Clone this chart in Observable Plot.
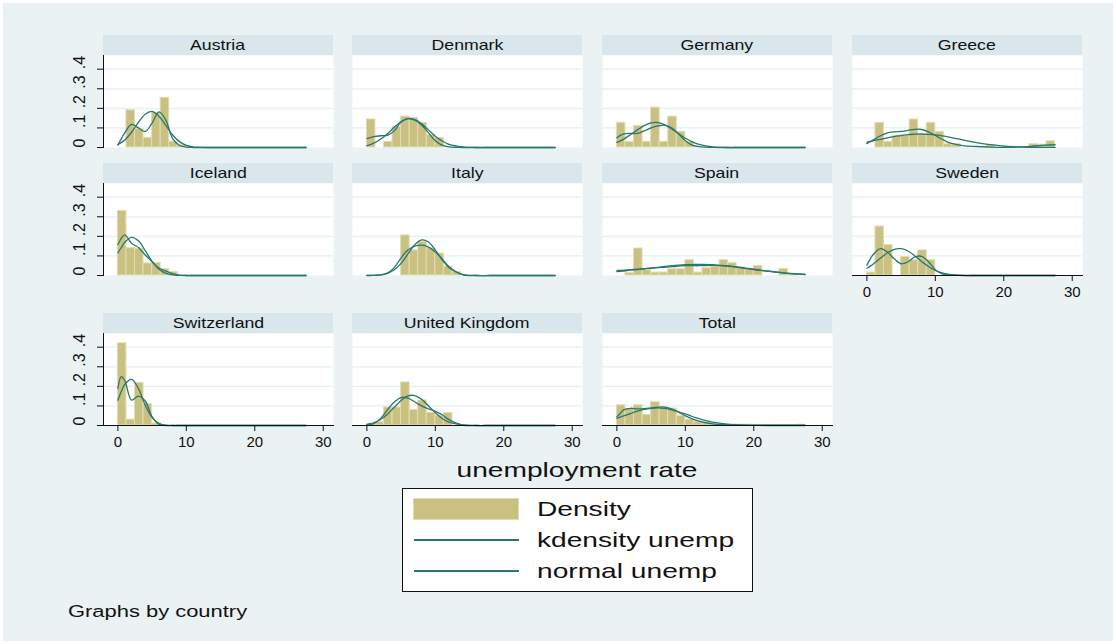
<!DOCTYPE html>
<html><head><meta charset="utf-8">
<script src="https://cdn.jsdelivr.net/npm/d3@7"></script>
<script src="https://cdn.jsdelivr.net/npm/@observablehq/plot@0.6"></script>
<style>
body{margin:0;background:#fff;}
#chart{position:relative;width:1110px;height:638px;margin:3px;background:#eaf2f3;font-family:"Liberation Sans",Arial,sans-serif;overflow:hidden}
#root{position:relative;width:1116px;height:644px;background:#fff;overflow:hidden}
.strip{position:absolute;background:#d9e6eb;text-align:center;font-size:14.5px;color:#111;line-height:20px;height:20px;width:230px}
.strip span{display:inline-block;transform:scaleX(1.22);transform-origin:center}
.panel{position:absolute}
.txt{position:absolute;color:#111;white-space:nowrap}
</style></head><body><div id="root"><div id="chart"></div></div><script>
const countries = ["Austria","Denmark","Germany","Greece","Iceland","Italy","Spain","Sweden","Switzerland","United Kingdom","Total"];
const binEdges = [0,1.25,2.5,3.75,5,6.25,7.5,8.75,10,11.25,12.5,13.75,15,16.25,17.5,18.75,20,21.25,22.5,23.75,25,26.25,27.5];
const austriaHist = [0,.19,.094,.05,.177,.254,.03,.012,0,0,0,0,0,0,0,0,0,0,0,0,0,0];
const denmarkHist = [.143,0,.029,.105,.158,.15,.126,.063,.048,0,0,0,0,0,0,0,0,0,0,0,0,0];
const germanyHist = [.126,.029,.109,.029,.204,.029,.158,.08,.029,0,0,0,0,0,0,0,0,0,0,0,0,0];
const greeceHist = [0,.126,.029,.06,.06,.143,.063,.126,.08,.017,.017,0,0,0,.012,0,.005,0,0,.017,.014,.032];
const icelandHist = [.33,.14,.135,.062,.065,.033,.017,0,0,0,0,0,0,0,0,0,0,0,0,0,0,0];
const italyHist = [0,0,0,0,.205,.128,.172,.138,.112,.045,.017,0,0,0,0,0,0,0,0,0,0,0];
const spainHist = [0,.012,.138,.028,.015,.015,.032,.032,.078,.015,.037,.045,.078,.063,.042,.033,.048,0,0,.033,.008,0];
const swedenHist = [.015,.25,.155,0,.095,.078,.128,.078,0,0,0,0,0,0,0,0,0,0,0,0,0,0];
const switzerlandHist = [.42,.03,.218,.109,.01,0,0,0,0,0,0,0,0,0,0,0,0,0,0,0,0,0];
const ukHist = [.004,.017,.092,.092,.22,.08,.128,.064,.05,.064,0,0,0,0,0,0,0,0,0,0,0,0];
const totalHist = [.103,.084,.103,.054,.119,.092,.086,.05,.03,.02,.012,.008,.006,.005,.004,.004,.003,.002,.002,.002,.002,.004];

const curveX = [0,0.5,1,2,3,4,5,6,7,8,9,10,11,12,14,16,18,20,22,24,26,27.5];
const austriaKd = [.012,.045,.075,.118,.1,.082,.125,.182,.14,.045,.01,.002,0,0,0,0,0,0,0,0,0,0];
const austriaNm = [.015,.025,.038,.078,.128,.17,.184,.16,.113,.064,.03,.011,.003,.001,0,0,0,0,0,0,0,0];
const denmarkKd = [.045,.05,.055,.06,.062,.085,.13,.148,.14,.115,.075,.035,.012,.003,0,0,0,0,0,0,0,0];
const denmarkNm = [.01,.015,.022,.042,.07,.103,.132,.147,.143,.121,.09,.058,.033,.016,.003,0,0,0,0,0,0,0];
const germanyKd = [.05,.062,.07,.072,.072,.085,.1,.11,.114,.1,.07,.035,.012,.004,.001,0,0,0,0,0,0,0];
const germanyNm = [.026,.034,.043,.066,.09,.112,.126,.127,.116,.095,.071,.047,.029,.016,.003,0,0,0,0,0,0,0];
const greeceKd = [.02,.03,.04,.06,.075,.08,.082,.088,.093,.092,.08,.062,.042,.025,.01,.005,.002,.001,.002,.006,.012,.014];
const greeceNm = [.028,.031,.035,.042,.049,.056,.061,.066,.068,.069,.067,.064,.059,.053,.039,.025,.015,.0075,.0034,.0014,.0005,.0002];
const icelandKd = [.158,.19,.208,.165,.143,.105,.07,.038,.022,.01,.002,0,0,0,0,0,0,0,0,0,0,0];
const icelandNm = [.116,.143,.169,.195,.177,.127,.072,.032,.011,.003,.001,0,0,0,0,0,0,0,0,0,0,0];
const italyKd = [.001,.001,.001,.003,.012,.04,.09,.13,.15,.155,.145,.12,.085,.045,.004,0,0,0,0,0,0,0];
const italyNm = [0,0,.001,.003,.011,.029,.062,.11,.157,.182,.171,.13,.08,.04,.005,0,0,0,0,0,0,0];
const spainKd = [.025,.026,.027,.03,.032,.035,.037,.04,.042,.045,.048,.05,.05,.05,.052,.048,.04,.03,.022,.015,.008,.005];
const spainNm = [.02,.021,.023,.027,.03,.034,.038,.042,.046,.05,.053,.055,.056,.057,.056,.05,.042,.032,.023,.015,.009,.006];
const swedenKd = [.053,.085,.11,.137,.12,.085,.06,.07,.095,.098,.07,.03,.008,.002,0,0,0,0,0,0,0,0];
const swedenNm = [.037,.048,.061,.089,.116,.134,.137,.125,.1,.072,.046,.026,.013,.006,.0005,0,0,0,0,0,0,0];
const switzerlandKd = [.19,.25,.23,.13,.15,.125,.045,.006,0,0,0,0,0,0,0,0,0,0,0,0,0,0];
const switzerlandNm = [.129,.174,.21,.236,.189,.104,.04,.011,.002,0,0,0,0,0,0,0,0,0,0,0,0,0];
const ukKd = [.003,.005,.01,.035,.08,.12,.143,.14,.12,.1,.085,.072,.055,.03,.002,0,0,0,0,0,0,0];
const ukNm = [.006,.009,.014,.031,.058,.093,.128,.151,.153,.134,.1,.065,.036,.017,.0025,0,0,0,0,0,0,0];
const totalKd = [.044,.062,.08,.088,.085,.086,.09,.094,.094,.085,.068,.05,.034,.022,.008,.004,.003,.002,.002,.002,.002,.002];
const totalNm = [.037,.043,.049,.061,.073,.082,.088,.09,.087,.08,.07,.059,.046,.035,.017,.0067,.0021,.0006,0,0,0,0];

const xTicks = [0,10,20,30];
const yTicks = [0,.1,.2,.3,.4];
const yTickLabels = ["0",".1",".2",".3",".4"];
const legendLabels = ["Density","kdensity unemp","normal unemp"];

const hists = [austriaHist,denmarkHist,germanyHist,greeceHist,icelandHist,italyHist,spainHist,swedenHist,switzerlandHist,ukHist,totalHist];
const kds = [austriaKd,denmarkKd,germanyKd,greeceKd,icelandKd,italyKd,spainKd,swedenKd,switzerlandKd,ukKd,totalKd];
const nms = [austriaNm,denmarkNm,germanyNm,greeceNm,icelandNm,italyNm,spainNm,swedenNm,switzerlandNm,ukNm,totalNm];

const BAR = "#c9c082", BAR_EDGE = "#e2dcb2", LINE = "#2a776d";
const OFF = 3; // chart inset inside the white outer border
const colLeft = [103,352,602,852], rowTop = [35,163,313];
const PW = 230, PH = 92, STRIP = 20;
const chart = document.getElementById("chart");

countries.forEach((name, i) => {
  const col = i % 4, row = Math.floor(i / 4);
  const left = colLeft[col] - OFF, top = rowTop[row] - OFF;
  const isLeft = col === 0;
  const isBottom = row === 2 || i === 7;
  const strip = document.createElement("div");
  strip.className = "strip";
  strip.style.left = left + "px"; strip.style.top = top + "px";
  const sp = document.createElement("span");
  sp.textContent = name;
  strip.appendChild(sp);
  chart.appendChild(strip);

  const bars = hists[i].map((h, k) => ({x1: binEdges[k], x2: binEdges[k+1], h})).filter(d => d.h > 0);
  const lines = [];
  curveX.forEach((x, k) => { lines.push({x, y: kds[i][k], s: "kd"}); lines.push({x, y: nms[i][k], s: "nm"}); });
  const ml = isLeft ? 50 : 0, mb = isBottom ? 32 : 0;
  const marks = [
    Plot.frame({fill: "white", stroke: "none"}),
    Plot.ruleY([.1,.2,.3,.4], {stroke: "#e6eff1", strokeWidth: 1.2}),
    Plot.rectY(bars, {x1: "x1", x2: "x2", y: "h", fill: BAR, stroke: BAR_EDGE, strokeWidth: 1}),
    Plot.line(lines, {x: "x", y: "y", z: "s", stroke: LINE, strokeWidth: 1.3, curve: "catmull-rom"})
  ];
  if (isLeft) {
    marks.push(Plot.frame({anchor: "left", stroke: "#111", strokeWidth: 1}));
    marks.push(Plot.axisY(yTicks, {tickSize: 6, tickFormat: () => "", stroke: "#111"}));
    marks.push(Plot.text(yTicks, {y: d => d, text: (d, j) => yTickLabels[j], frameAnchor: "left", dx: -24, rotate: -90, fontSize: 16, fill: "#111"}));
  }
  if (isBottom) {
    marks.push(Plot.frame({anchor: "bottom", stroke: "#111", strokeWidth: 1}));
    marks.push(Plot.axisX(xTicks, {tickSize: 6, tickPadding: 5, fontSize: 15, stroke: "#111", fill: "#111"}));
  }
  const svg = Plot.plot({
    width: PW + ml, height: PH + mb,
    marginLeft: ml, marginRight: 0, marginTop: 0, marginBottom: mb,
    x: {domain: [-2.1, 31.5], axis: null},
    y: {domain: [0, 0.47], axis: null},
    style: {background: "transparent", fontFamily: "Liberation Sans, Arial, sans-serif", overflow: "visible"},
    marks
  });
  const wrap = document.createElement("div");
  wrap.className = "panel";
  wrap.style.left = (left - ml) + "px";
  wrap.style.top = (top + STRIP) + "px";
  wrap.appendChild(svg);
  chart.appendChild(wrap);
});

function addText(t, x, y, size, anchor, sx) {
  const d = document.createElement("div");
  d.className = "txt";
  d.textContent = t;
  d.style.fontSize = size + "px";
  d.style.top = (y - OFF - size * 0.6) + "px";
  d.style.lineHeight = (size * 1.2) + "px";
  d.style.left = (x - OFF) + "px";
  if (anchor === "middle") { d.style.transform = `translateX(-50%) scaleX(${sx})`; d.style.transformOrigin = "center"; }
  else { d.style.transform = `scaleX(${sx})`; d.style.transformOrigin = "left center"; }
  chart.appendChild(d);
}
addText("unemployment rate", 577, 470, 21, "middle", 1.34);
addText("Graphs by country", 68, 612, 16, "start", 1.37);

// legend
const lg = document.createElement("div");
lg.style.cssText = `position:absolute;left:${402-OFF}px;top:${488-OFF}px;width:349px;height:102px;background:#fff;border:1px solid #111`;
chart.appendChild(lg);
const sw = document.createElement("div");
sw.style.cssText = `position:absolute;left:${413-OFF}px;top:${498-OFF}px;width:104px;height:20px;background:${BAR};border:1px solid ${BAR_EDGE}`;
chart.appendChild(sw);
[540, 571].forEach(y => {
  const l = document.createElement("div");
  l.style.cssText = `position:absolute;left:${414-OFF}px;top:${y-1-OFF}px;width:105px;height:2px;background:${LINE}`;
  chart.appendChild(l);
});
legendLabels.forEach((t, j) => addText(t, 537, [509, 540, 571][j], 21, "start", 1.34));
</script></body></html>
